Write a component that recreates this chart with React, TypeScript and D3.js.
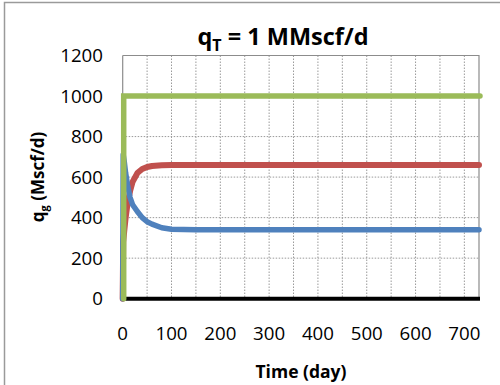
import React from "react";
import * as d3 from "d3";

const xTicks = [0, 100, 200, 300, 400, 500, 600, 700];
const yTicks = [0, 200, 400, 600, 800, 1000, 1200];
const xGrid = [50, 100, 150, 200, 250, 300, 350, 400, 450, 500, 550, 600, 650, 700];

const timeTotal = [0, 0, 730];
const qTotal = [0, 1000, 1000];

const timeBlue = [0, 1, 3, 6, 10, 15, 20, 30, 40, 50, 60, 80, 100, 150, 730];
const qBlue = [0, 710, 680, 620, 560, 500, 465, 430, 400, 380, 368, 350, 343, 340, 340];

const timeRed = [0, 1, 3, 6, 10, 15, 20, 30, 40, 50, 60, 80, 100, 730];
const qRed = [0, 280, 330, 400, 470, 530, 575, 620, 640, 650, 655, 659, 660, 660];

const W = 500;
const H = 385;
const left = 122.7;
const right = 479;
const top = 55.5;
const bottom = 298.7;

export default function App() {
  const x = d3.scaleLinear().domain([0, 730]).range([left, right]);
  const y = d3.scaleLinear().domain([0, 1200]).range([bottom, top]);
  const line = d3
    .line<[number, number]>()
    .x((d) => x(d[0]))
    .y((d) => y(d[1]));
  const zip = (t: number[], q: number[]) => t.map((v, i) => [v, q[i]] as [number, number]);
  const font = "'Open Sans', 'DejaVu Sans', sans-serif";

  return (
    <svg
      width={W}
      height={H}
      style={{ position: "absolute", left: 0, top: 0, background: "#fff" }}
      fontFamily={font}
    >
      <rect x={4.5} y={2.5} width={600} height={500} fill="none" stroke="#9a9a9a" strokeWidth={1.5} />
      {/* grid */}
      {xGrid.map((v) => (
        <line
          key={"gx" + v}
          x1={x(v)}
          x2={x(v)}
          y1={y(1200)}
          y2={y(0)}
          stroke="#9a9a9a"
          strokeWidth={1}
          strokeDasharray="1.5,1.5"
        />
      ))}
      {yTicks.filter((v) => v > 0 && v < 1200).map((v) => (
        <line
          key={"gy" + v}
          x1={x(0)}
          x2={x(730)}
          y1={y(v)}
          y2={y(v)}
          stroke="#9a9a9a"
          strokeWidth={1}
          strokeDasharray="1.5,1.5"
        />
      ))}
      {/* plot border */}
      <path
        d={`M${x(0)},${y(1200)}H${x(730)}V${y(0)}`}
        fill="none"
        stroke="#8c8c8c"
        strokeWidth={1.2}
      />
      <line x1={x(0)} x2={x(0)} y1={y(0)} y2={y(1200)} stroke="#8c8c8c" strokeWidth={1.2} />
      {/* x axis */}
      <line x1={x(0)} x2={x(730) + 1} y1={y(0)} y2={y(0)} stroke="#000" strokeWidth={4} />
      {/* series */}
      <path
        d={line(zip(timeRed, qRed)) || ""}
        fill="none"
        stroke="#C0504D"
        strokeWidth={6}
        strokeLinecap="round"
        strokeLinejoin="round"
      />
      <path
        d={line(zip(timeBlue, qBlue)) || ""}
        fill="none"
        stroke="#4F81BD"
        strokeWidth={5.5}
        strokeLinecap="round"
        strokeLinejoin="round"
      />
      <path
        d={line(zip(timeTotal, qTotal)) || ""}
        fill="none"
        stroke="#9BBB59"
        strokeWidth={5.5}
        strokeLinecap="round"
        strokeLinejoin="miter"
        transform="translate(1,0)"
      />
      {/* tick labels */}
      {yTicks.map((v) => (
        <text key={"yt" + v} x={103} y={y(v)} dy="0.35em" textAnchor="end" fontSize={18.7} fill="#000">
          {v}
        </text>
      ))}
      {xTicks.map((v) => (
        <text key={"xt" + v} x={x(v)} y={340} textAnchor="middle" fontSize={18.7} fill="#000">
          {v}
        </text>
      ))}
      {/* titles */}
      <text x={283} y={45} textAnchor="middle" fontSize={23.5} fontWeight="bold" fill="#000">
        q<tspan fontSize={16} dy={6}>T</tspan>
        <tspan dy={-6}> = 1 MMscf/d</tspan>
      </text>
      <text x={301} y={378} textAnchor="middle" fontSize={17.5} fontWeight="bold" fill="#000">
        Time (day)
      </text>
      <text
        transform={`translate(44,177) rotate(-90)`}
        textAnchor="middle"
        fontSize={17}
        fontWeight="bold"
        fill="#000"
      >
        q<tspan fontSize={11} dy={4}>g</tspan>
        <tspan dy={-4}> (Mscf/d)</tspan>
      </text>
    </svg>
  );
}
